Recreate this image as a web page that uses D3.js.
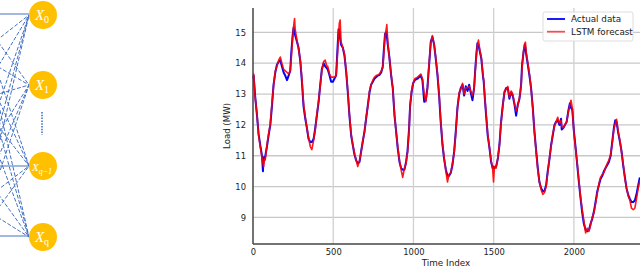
<!DOCTYPE html>
<html><head><meta charset="utf-8">
<script src="https://cdn.jsdelivr.net/npm/d3@7"></script>
<style>body{margin:0;background:#fff}svg{display:block}</style>
</head><body>
<svg id="c" width="640" height="268"></svg>
<script>
const timeIndex = [0,4,14,25,35,45,56,62,66,72,77,87,97,108,118,128,139,149,160,170,180,191,201,212,222,232,238,247,253,259,263,274,284,295,305,315,326,336,346,357,367,378,388,398,409,419,429,440,450,460,
466,477,487,498,508,518,525,533,538,543,549,560,570,581,591,601,612,622,632,643,653,664,674,684,695,705,716,726,736,747,757,768,778,788,799,809,815,823,830,834,840,850,861,871,882,892,902,913,923,933,944,954,
963,973,979,988,998,1008,1025,1046,1056,1067,1077,1087,1094,1102,1108,1118,1129,1139,1150,1160,1170,1181,1191,1202,1212,1222,1233,1243,1254,1264,1274,1285,1295,1306,1316,1326,1337,1347,1357,1368,1378,1384,1393,1399,1405,1415,1423,1434,
1438,1445,1453,1463,1474,1484,1494,1499,1505,1515,1526,1536,1546,1557,1567,1578,1588,1598,1609,1619,1630,1640,1650,1661,1671,1677,1686,1694,1698,1704,1713,1723,1733,1744,1754,1765,1775,1785,1796,1806,1816,1827,1837,1848,1858,1868,1879,1889,1899,1910,1920,
1924,1934,1944,1955,1965,1975,1982,1990,2000,2011,2021,2031,2042,2052,2062,2073,2083,2094,2104,2114,2125,2135,2146,2156,2166,2177,2187,2197,2208,2218,2229,2239,2249,2258,2266,2276,2287,2297,2307,2318,2328,2339,2349,2359,2370,2380,2390,2401,2411];
const actual = [13.6,13.6,12.9,12.3,11.7,11.35,11.0,10.5,10.95,10.85,11.0,11.3,11.65,12.0,12.6,13.3,13.7,13.95,14.05,14.1,13.9,13.7,13.6,13.45,13.6,13.75,14.3,14.9,15.15,15.0,14.9,14.7,14.5,14.05,13.4,12.6,12.2,11.9,11.55,11.45,11.45,11.55,11.9,12.3,12.75,13.3,13.8,14.0,13.9,13.84,
13.8,13.6,13.4,13.4,13.5,13.6,14.3,15.1,15.05,14.8,14.6,14.5,14.25,13.7,13.05,12.3,11.65,11.35,11.05,10.85,10.75,10.8,11.15,11.45,11.8,12.2,12.65,13.05,13.3,13.4,13.5,13.55,13.6,13.62,13.7,13.9,14.4,14.95,15.0,14.9,14.6,14.2,13.6,13.2,12.3,11.8,11.25,10.8,10.6,10.55,10.55,10.8,
11.15,11.9,12.6,13.05,13.35,13.45,13.5,13.6,13.45,12.75,12.8,13.2,13.7,14.25,14.7,14.85,14.6,14.15,13.6,12.95,12.1,11.35,10.9,10.55,10.35,10.35,10.45,10.7,11.15,11.8,12.55,13.0,13.2,13.3,12.95,13.25,13.1,13.3,13.05,12.8,13.2,13.7,14.35,14.65,14.6,14.35,14.15,13.55,
13.4,12.85,12.3,11.65,11.25,10.8,10.6,10.65,10.6,10.65,10.9,11.35,12.1,12.65,13.05,13.2,13.2,12.85,13.05,12.95,12.65,12.3,12.65,12.85,13.3,13.95,14.35,14.6,14.5,14.25,13.95,13.6,13.2,12.55,11.8,11.15,10.6,10.15,9.95,9.85,9.85,10.05,10.5,10.9,11.35,11.65,12.0,12.1,12.15,12.0,12.2,
11.85,11.9,12.0,12.1,12.45,12.7,12.55,12.5,11.8,11.25,10.7,10.15,9.6,9.15,8.8,8.6,8.55,8.6,8.8,8.95,9.2,9.5,9.85,10.05,10.25,10.35,10.5,10.6,10.7,10.8,11.0,11.45,11.9,12.15,12.1,11.75,11.45,11.15,10.7,10.3,9.95,9.72,9.6,9.5,9.5,9.55,9.75,10.05,10.3];
const forecast = [13.5,13.65,12.85,12.35,11.65,11.3,10.95,10.75,10.65,10.9,10.9,11.35,11.7,12.05,12.7,13.25,13.75,13.9,14.1,14.2,14.0,13.8,13.75,13.7,13.65,13.75,14.1,14.8,15.2,15.45,15.1,14.75,14.45,14.1,13.5,12.7,12.25,11.9,11.6,11.3,11.2,11.5,11.85,12.35,12.8,13.25,13.75,14.05,14.1,13.9,
13.9,13.65,13.55,13.55,13.55,13.6,14.15,14.9,15.3,15.4,14.7,14.5,14.3,13.75,13.1,12.35,11.7,11.35,11.1,10.85,10.65,10.85,11.1,11.5,11.75,12.25,12.6,13.1,13.3,13.45,13.55,13.6,13.62,13.65,13.75,13.85,14.3,14.9,15.1,15.25,14.7,14.15,13.65,13.2,12.35,11.75,11.3,10.85,10.55,10.3,10.6,10.75,
11.1,11.85,12.65,13.1,13.35,13.5,13.55,13.65,13.5,13.0,12.75,13.15,13.75,14.3,14.65,14.9,14.6,14.2,13.65,13.0,12.15,11.4,10.95,10.5,10.15,10.4,10.45,10.75,11.1,11.75,12.5,13.05,13.15,13.35,13.0,13.2,13.2,13.25,13.1,12.95,13.15,13.65,14.3,14.6,14.75,14.4,14.2,13.6,
13.45,12.9,12.35,11.7,11.25,10.85,10.55,10.15,10.65,10.6,10.95,11.35,12.05,12.6,13.1,13.15,13.25,12.9,13.1,13.0,12.7,12.45,12.6,12.9,13.25,13.85,14.4,14.65,14.68,14.3,14.0,13.65,13.2,12.5,11.75,11.1,10.55,10.15,9.9,9.75,9.8,10.0,10.45,10.95,11.3,11.7,11.95,12.1,12.25,12.05,12.15,
11.95,11.9,12.0,12.1,12.4,12.65,12.8,12.55,11.75,11.2,10.75,10.2,9.65,9.25,8.9,8.5,8.65,8.55,8.75,9.0,9.15,9.45,9.8,10.1,10.3,10.4,10.45,10.6,10.75,10.85,11.05,11.4,11.85,12.05,12.18,11.8,11.5,11.1,10.75,10.25,9.95,9.7,9.55,9.3,9.25,9.3,9.6,9.95,10.2];
const yTicks = [9,10,11,12,13,14,15];
const xTicks = [0,500,1000,1500,2000];
const seriesNames = ["Actual data","LSTM forecast"];
const outNodes = [{sub:"0",y:15},{sub:"1",y:85},{sub:"q\u22121",y:166},{sub:"q",y:237}];
const inNodes = [14,55,100,166,205,236];

const svg = d3.select("#c");
const font = "DejaVu Sans, sans-serif";

// ---- left diagram ----
const netG = svg.append("g");
const nx = 43, lx = -22, edgeX = 29;
inNodes.forEach(iy => {
  outNodes.forEach(o => {
    const same = Math.abs(iy - o.y) < 3;
    netG.append("line").attr("x1", lx).attr("y1", iy)
      .attr("x2", edgeX).attr("y2", same ? iy : o.y)
      .attr("stroke", "#4472c4").attr("stroke-width", same ? 1.2 : 1)
      .attr("stroke-dasharray", same ? null : "4,1.8");
  });
});
netG.append("line").attr("x1", 42).attr("x2", 42).attr("y1", 112).attr("y2", 135)
  .attr("stroke", "#4472c4").attr("stroke-width", 1.6).attr("stroke-dasharray", "1.5,1.3");
outNodes.forEach(o => {
  netG.append("circle").attr("cx", nx).attr("cy", o.y).attr("r", 14).attr("fill", "#ffc000");
  const small = o.sub.length > 1;
  const t = netG.append("text").attr("x", nx - 1).attr("y", o.y + 5)
    .attr("text-anchor", "middle").attr("fill", "#fff")
    .attr("font-family", "Liberation Serif, DejaVu Serif, serif").attr("font-style", "italic")
    .attr("font-size", small ? 11 : 15);
  t.append("tspan").text("X");
  t.append("tspan").attr("dy", 3).attr("font-size", small ? 8 : 10).attr("font-style", small ? "italic" : "normal").text(o.sub);
});

// ---- chart ----
const x = d3.scaleLinear().domain([0, 2412]).range([253, 640]);
const y = d3.scaleLinear().domain([8.14, 15.79]).range([244, 8]);

const grid = svg.append("g");
grid.selectAll(".hg").data(yTicks).join("line")
  .attr("x1", 253).attr("x2", 640).attr("y1", d => y(d)).attr("y2", d => y(d))
  .attr("stroke", "#c8c8c8").attr("stroke-width", 1.3);
grid.selectAll(".vg").data(xTicks.filter(d => d > 0)).join("line")
  .attr("y1", 8).attr("y2", 244).attr("x1", d => x(d)).attr("x2", d => x(d))
  .attr("stroke", "#d0d0d0").attr("stroke-width", 1.3);

const pts = timeIndex.map((t, i) => ({t, a: actual[i], f: forecast[i]}));
const lineA = d3.line().x(d => x(d.t)).y(d => y(d.a));
const lineF = d3.line().x(d => x(d.t)).y(d => y(d.f));
svg.append("path").datum(pts).attr("d", lineA).attr("fill", "none")
  .attr("stroke", "#0000ff").attr("stroke-width", 2).attr("stroke-linejoin", "round");
svg.append("path").datum(pts).attr("d", lineF).attr("fill", "none")
  .attr("stroke", "#ff0000").attr("stroke-width", 1.6).attr("stroke-linejoin", "round").attr("opacity", 0.9);

// axes
const yAx = svg.append("g").attr("transform", "translate(253,0)")
  .call(d3.axisLeft(y).tickValues(yTicks).tickSize(0).tickPadding(7));
const xAx = svg.append("g").attr("transform", "translate(0,244)")
  .call(d3.axisBottom(x).tickValues(xTicks).tickFormat(d3.format("d")).tickSize(0).tickPadding(5));
[yAx, xAx].forEach(g => {
  g.select(".domain").remove();
  g.selectAll("text").attr("font-family", font).attr("font-size", 8.4).attr("fill", "#222");
});
svg.append("line").attr("x1", 253).attr("x2", 253).attr("y1", 8).attr("y2", 244)
  .attr("stroke", "#444").attr("stroke-width", 1.5);
svg.append("line").attr("x1", 253).attr("x2", 640).attr("y1", 244).attr("y2", 244)
  .attr("stroke", "#444").attr("stroke-width", 1.5);

svg.append("text").attr("transform", "translate(230,126) rotate(-90)")
  .attr("text-anchor", "middle").attr("font-family", font).attr("font-size", 8.6).attr("fill", "#222")
  .text("Load (MW)");
svg.append("text").attr("x", 446).attr("y", 266).attr("text-anchor", "middle")
  .attr("font-family", font).attr("font-size", 8.8).attr("fill", "#222").text("Time Index");

// legend
const lg = svg.append("g");
lg.append("rect").attr("x", 543).attr("y", 12).attr("width", 90).attr("height", 29).attr("rx", 2)
  .attr("fill", "#fff").attr("fill-opacity", 0.85).attr("stroke", "#ddd");
const colors = ["#0000ff", "#f05050"];
seriesNames.forEach((n, i) => {
  lg.append("line").attr("x1", 547).attr("x2", 565).attr("y1", 19 + i * 12.7).attr("y2", 19 + i * 12.7)
    .attr("stroke", colors[i]).attr("stroke-width", 1.8);
  lg.append("text").attr("x", 571).attr("y", 22.3 + i * 12.7).attr("font-family", font)
    .attr("font-size", 8.8).attr("fill", "#222").text(n);
});
</script>
</body></html>
